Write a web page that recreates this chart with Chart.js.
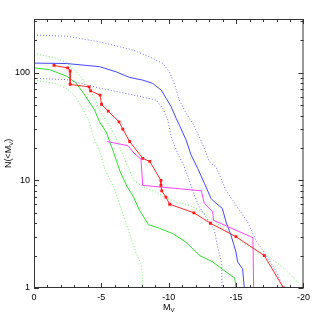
<!DOCTYPE html>
<html>
<head>
<meta charset="utf-8">
<script src="https://cdn.jsdelivr.net/npm/chart.js@4"></script>
<style>
  body { margin: 0; background: #fff; }
  canvas { display: block; }
</style>
</head>
<body>
<canvas id="lfChart" width="314" height="317"></canvas>
<script>
// observed counts (red, with markers)
const magObs = [-1.48, -2.50, -2.68, -2.68, -4.09, -4.20, -4.90, -5.01, -5.51, -6.31, -6.59, -7.10,
  -8.07, -8.59, -9.42, -9.42, -9.48, -9.79, -10.07, -11.87, -13.09, -14.99, -17.09, -18.52];
const nObs = [117, 111, 104, 78, 74, 68, 62, 51, 44, 35, 30, 23, 16, 15, 10, 9, 8, 7, 6, 5, 4, 3, 2, 1];

// magenta
const magPink = [-5.41, -6.98, -7.35, -7.94, -8.07, -12.42, -12.64, -13.26, -13.33, -16.25, -16.30];
const nPink = [23, 21, 18.3, 15.7, 9, 8, 6.1, 5.1, 4.26, 2.93, 1];

// blue model + range
const magBlue = [0, -2.4, -4.87, -6.10, -7.09, -8.07, -8.81, -9.44, -9.81, -10.18, -10.55, -10.79, -11.29,
  -11.66, -12.15, -12.64, -13.14, -13.39, -13.98, -14.25, -14.62, -14.99, -15.11, -15.48, -15.61];
const nBlue = [123, 122, 114, 102, 90.6, 85.5, 79.7, 69, 57.8, 48.3, 37.7, 32.6, 23.7,
  17.2, 12.9, 9.42, 6.79, 6.31, 5.48, 4.11, 3.09, 2.16, 1.75, 1.51, 1];

const magBlueHi = [0, -2.4, -4.87, -7.33, -8.57, -9.56, -10.05, -10.42, -10.79, -11.29, -11.78, -12.27,
  -12.64, -13.01, -13.51, -13.88, -14.25, -14.74, -15.24, -15.85, -16.47, -17.46, -18.07, -18.5];
const nBlueHi = [224, 219, 194, 163, 141, 122, 102, 78.5, 55.7, 41.9, 33.8, 25.4,
  19.9, 14.9, 13.3, 10.4, 8.1, 6.55, 5.28, 4.11, 2.78, 1.81, 1.36, 1];

const magBlueLo = [0, -2.4, -4.87, -6.4, -7.39, -9.07, -9.56, -9.93, -10.18, -10.67, -11.16, -11.53,
  -11.9, -12.27, -13.01, -13.39, -13.63, -13.88, -13.94, -13.94];
const nBlueLo = [88.7, 86.5, 72, 66, 62, 55.7, 46.7, 36.3, 25.4, 17.8, 13.3, 10,
  7.28, 5.64, 4.11, 3.44, 2.39, 1.81, 1.63, 1];

// green model + range
const magGreen = [0, -1.16, -2.42, -3.09, -3.72, -4.5, -4.87, -5.36, -5.85, -6.4, -6.89, -7.39, -7.83,
  -8.5, -9.31, -10.3, -11.29, -12.27, -13.26, -14.25, -14.9, -14.99];
const nGreen = [111, 107, 93, 81, 63.4, 45, 34.8, 28.1, 19.1, 12, 8.83, 6.98, 5.28,
  3.87, 3.59, 3.2, 2.66, 2.01, 1.75, 1.41, 1.24, 1];

const magGreenHi = [0, -1.53, -2.42, -3.16, -3.9, -4.5, -4.92, -5.66, -6.15, -6.64, -7.14, -7.46, -7.83,
  -8.33, -9.07, -9.68, -10.55, -11.53, -12.52, -13.6, -15.24, -16.47, -17.46, -18.44, -19.44, -20];
const nGreenHi = [151, 138, 125, 102, 78.5, 58.2, 43.4, 31.5, 23.7, 16.6, 12, 9.84, 9.22,
  8.46, 7.77, 6.98, 6.31, 5.88, 5.09, 3.96, 2.78, 2.24, 1.93, 1.57, 1.18, 1];

const magGreenLo = [0, -1.53, -2.42, -3.01, -3.68, -4.05, -4.42, -4.92, -5.29, -5.78, -6.10, -6.59,
  -7.09, -7.59, -7.96, -8.05, -8.05];
const nGreenLo = [85.5, 79.7, 71.6, 61.4, 45, 36.3, 25.4, 17.8, 12.4, 9.36, 7.55, 4.85,
  3.21, 2.09, 1.66, 1.26, 1];

const xTickLabels = [0, -5, -10, -15, -20];
const yTickLabels = [1, 10, 100];

const FONT = '"Liberation Sans", Arial, sans-serif';

function pts(mags, ns) {
  return mags.map((m, i) => ({ x: m, y: ns[i] }));
}

function line(label, mags, ns, color, dotted, order) {
  return {
    label: label,
    data: pts(mags, ns),
    borderColor: color,
    borderWidth: 1,
    borderDash: dotted ? [1, 2] : [],
    pointRadius: 0,
    tension: 0,
    fill: false,
    order: order,
  };
}

// frame, inward ticks on all four sides, and the axis titles with subscripts
const framePlugin = {
  id: "framePlugin",
  afterDraw(chart) {
    const { ctx, chartArea: a, scales } = chart;
    const x = scales.x;
    const y = scales.y;
    ctx.save();
    ctx.strokeStyle = "#333";
    ctx.lineWidth = 1;
    ctx.strokeRect(a.left + 0.5, a.top + 0.5, a.right - a.left - 1, a.bottom - a.top - 1);

    ctx.beginPath();
    for (let v = -20; v <= 0; v++) {
      const px = Math.round(x.getPixelForValue(v)) + 0.5;
      const len = v % 5 === 0 ? 5 : 3;
      ctx.moveTo(px, a.bottom);
      ctx.lineTo(px, a.bottom - len);
      ctx.moveTo(px, a.top);
      ctx.lineTo(px, a.top + len);
    }
    for (let d = 1; d <= 100; d *= 10) {
      for (let k = 1; k <= 9; k++) {
        const v = k * d;
        if (v > y.max) break;
        const py = Math.round(y.getPixelForValue(v)) + 0.5;
        const len = k === 1 ? 5 : 3;
        ctx.moveTo(a.left, py);
        ctx.lineTo(a.left + len, py);
        ctx.moveTo(a.right, py);
        ctx.lineTo(a.right - len, py);
      }
    }
    ctx.stroke();

    // M_V under the x axis
    ctx.fillStyle = "#000";
    ctx.textBaseline = "alphabetic";
    ctx.font = "9px " + FONT;
    const wM = ctx.measureText("M").width;
    ctx.font = "6px " + FONT;
    const wV = ctx.measureText("V").width;
    const cx = (a.left + a.right) / 2;
    const bx = cx - (wM + wV) / 2;
    ctx.font = "9px " + FONT;
    ctx.fillText("M", bx, 310);
    ctx.font = "6px " + FONT;
    ctx.fillText("V", bx + wM, 312);

    // N(<M_V) rotated on the left
    ctx.translate(11, (a.top + a.bottom) / 2);
    ctx.rotate(-Math.PI / 2);
    ctx.font = "9px " + FONT;
    const w1 = ctx.measureText("N(<M").width;
    const w3 = ctx.measureText(")").width;
    ctx.font = "6px " + FONT;
    const w2 = ctx.measureText("V").width;
    let tx = -(w1 + w2 + w3) / 2;
    ctx.font = "9px " + FONT;
    ctx.fillText("N(<M", tx, 0);
    ctx.font = "6px " + FONT;
    ctx.fillText("V", tx + w1, 2);
    ctx.font = "9px " + FONT;
    ctx.fillText(")", tx + w1 + w2, 0);
    ctx.restore();
  },
};

const obsSet = {
  label: "observed",
  data: pts(magObs, nObs),
  borderColor: "#ff2a2a",
  backgroundColor: "#ff1a1a",
  borderWidth: 1,
  pointRadius: 2,
  pointStyle: "rect",
  pointBorderWidth: 0,
  tension: 0,
  fill: false,
  order: 0,
};

new Chart(document.getElementById("lfChart"), {
  type: "line",
  data: {
    datasets: [
      obsSet,
      line("magenta", magPink, nPink, "#ff44ff", false, 1),
      line("blue", magBlue, nBlue, "#4646ff", false, 2),
      line("blue hi", magBlueHi, nBlueHi, "#7070ff", true, 3),
      line("blue lo", magBlueLo, nBlueLo, "#7070ff", true, 4),
      line("green", magGreen, nGreen, "#2ee02e", false, 5),
      line("green hi", magGreenHi, nGreenHi, "#70ee70", true, 6),
      line("green lo", magGreenLo, nGreenLo, "#70ee70", true, 7),
    ],
  },
  options: {
    responsive: false,
    animation: false,
    devicePixelRatio: 1,
    layout: { padding: { top: 19, right: 10, left: 0, bottom: 0 } },
    plugins: {
      legend: { display: false },
      tooltip: { enabled: false },
    },
    scales: {
      x: {
        type: "linear",
        min: -20,
        max: 0,
        reverse: true,
        grid: { display: false, drawTicks: false },
        border: { display: false },
        afterBuildTicks: (scale) => {
          scale.ticks = xTickLabels.map((v) => ({ value: v }));
        },
        afterFit: (scale) => {
          scale.height = 29;
        },
        ticks: {
          padding: 4,
          autoSkip: false,
          maxRotation: 0,
          color: "#000",
          font: { family: FONT, size: 9 },
          callback: (v) => String(v),
        },
      },
      y: {
        type: "logarithmic",
        min: 1,
        max: 316.2,
        grid: { display: false, drawTicks: false },
        border: { display: false },
        afterBuildTicks: (scale) => {
          scale.ticks = yTickLabels.map((v) => ({ value: v }));
        },
        afterFit: (scale) => {
          scale.width = 34;
        },
        ticks: {
          padding: 4,
          color: "#000",
          font: { family: FONT, size: 9 },
          callback: (v) => String(v),
        },
      },
    },
  },
  plugins: [framePlugin],
});
</script>
</body>
</html>
